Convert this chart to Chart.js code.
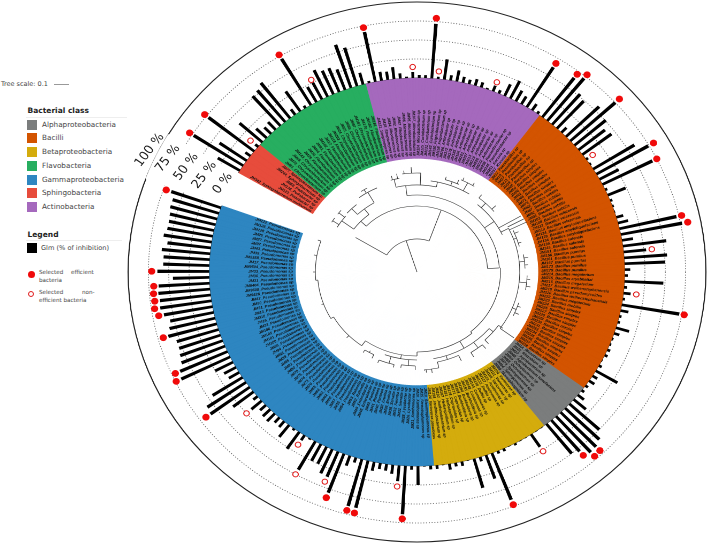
<!DOCTYPE html>
<html lang="en">
<head>
<meta charset="UTF-8">
<title>Bacterial class tree</title>
<script src="https://cdn.jsdelivr.net/npm/chart.js"></script>
<style>
    html, body { margin: 0; background: #fff; overflow: hidden; width: 707px; height: 544px; }
    body { position: relative; font-family: "DejaVu Sans", sans-serif; color: #333; }
    #tree { position: absolute; left: 137px; top: -8px; transform: scaleX(1.07); transform-origin: center; }
    .t { position: absolute; white-space: nowrap; }
    .box { position: absolute; width: 10px; height: 10px; }
    .line { position: absolute; background: #eee; height: 1px; }
    .dot { position: absolute; width: 7px; height: 7px; border-radius: 50%; background: #f00a0a; }
    .ring { position: absolute; width: 4px; height: 4px; border-radius: 50%; border: 1.2px solid #e01b1b; background: #fff; }
</style>
</head>
<body>
<div id="side"></div>
<canvas id="tree" width="560" height="560"></canvas>
<script>
// class order round the ring, clockwise from the gap
const classNames = ['Sphingobacteria', 'Flavobacteria', 'Actinobacteria', 'Bacilli', 'Alphaproteobacteria', 'Betaproteobacteria', 'Gammaproteobacteria'];
const classColors = ['#e74c3c', '#27ae60', '#a569bd', '#d35400', '#7b7d7d', '#d4ac0d', '#2e86c1'];
const legendOrder = [4, 3, 5, 1, 6, 0, 2];

const sphingoNames = ['JM342_Sphingobacterium multivorum', 'JM123_Pedobacter sp', 'JM136_Pedobacter sp', 'JM58_Pedobacter sp', 'JM244_Sphingobacterium sp', 'JM77_Sphingobacterium sp'];
const flavoNames = ['JM81_Chryseobacterium sp', 'JM72_Chryseobacterium sp', 'JM65_Chryseobacterium sp', 'JM143_Chryseobacterium sp', 'JM29_Flavobacterium sp', 'JM30_Flavobacterium sp', 'JM44_Flavobacterium sp', 'JM91_Flavobacterium sp', 'JM102_Flavobacterium sp', 'JM17_Flavobacterium sp', 'JM118_Flavobacterium sp', 'JM203_Flavobacterium sp', 'JM24_Chryseobacterium sp', 'JM25_Chryseobacterium sp', 'JM88_Chryseobacterium sp', 'JM97_Chryseobacterium sp', 'JM163_Chryseobacterium sp', 'JM170_Flavobacterium sp', 'JM182_Flavobacterium sp', 'JM191_Flavobacterium sp'];
const actinoNames = ['JM221_Streptomyces sp', 'JM18_Streptomyces sp', 'JM34_Rhodococcus sp', 'JM42_Rhodococcus sp', 'JM67_Rhodococcus sp', 'JM86_Microbacterium sp', 'JM95_Microbacterium sp', 'JM107_Microbacterium sp', 'JM114_Microbacterium sp', 'JM125_Curtobacterium sp', 'JM131_Curtobacterium sp', 'JM142_Curtobacterium sp', 'JM150_Frigoribacterium sp', 'JM158_Frigoribacterium sp', 'JM166_Arthrobacter sp', 'JM172_Arthrobacter sp', 'JM178_Arthrobacter sp', 'JM185_Arthrobacter sp', 'JM194_Arthrobacter sp', 'JM201_Arthrobacter sp', 'JM207_Arthrobacter sp', 'JM213_Arthrobacter sp', 'JM219_Arthrobacter sp', 'JM226_Arthrobacter sp', 'JM232_Arthrobacter sp', 'JM238_Paenarthrobacter sp', 'JM246_Paenarthrobacter sp', 'JM251_Kocuria sp', 'JM257_Kocuria sp'];
const bacilliNames = ['JM12_Paenibacillus sp', 'JM19_Paenibacillus sp', 'JM27_Paenibacillus sp', 'JM33_Paenibacillus sp', 'JM39_Paenibacillus sp', 'JM45_Bacillus simplex', 'JM50_Bacillus simplex', 'JM56_Bacillus simplex', 'JM61_Bacillus simplex', 'JM66_Bacillus simplex', 'JM71_Bacillus simplex', 'JM76_Bacillus simplex', 'JM82_Bacillus subtilis', 'JM87_Bacillus subtilis', 'JM92_Bacillus subtilis', 'JM98_Bacillus subtilis', 'JM103_Bacillus subtilis', 'JM108_Bacillus velezensis', 'JM113_Bacillus velezensis', 'JM119_Bacillus velezensis', 'JM124_Bacillus amyloliquefaciens', 'JM129_Bacillus amyloliquefaciens', 'JM134_Bacillus amyloliquefaciens', 'JM139_Bacillus safensis', 'JM145_Bacillus safensis', 'JM151_Bacillus safensis', 'JM156_Bacillus pumilus', 'JM161_Bacillus pumilus', 'JM167_Bacillus pumilus', 'JM173_Bacillus pumilus', 'JM179_Bacillus pumilus', 'JM214_Bacillus megaterium', 'JM215_Bacillus aryabhattai', 'JM216_Bacillus megaterium', 'JM217_Bacillus weihenstephanensis', 'JM218_Bacillus pseudomycoides', 'JM220_Bacillus weihenstephanensis', 'JM222_Bacillus megaterium', 'JM223_Bacillus mobilis', 'JM224_Bacillus simplex', 'JM225_Bacillus simplex', 'JM227_Bacillus simplex', 'JM228_Bacillus simplex', 'JM229_Bacillus niacini', 'JM230_Bacillus simplex', 'JM231_Bacillus simplex', 'JM233_Bacillus simplex', 'JM234_Bacillus simplex', 'JM235_Bacillus simplex', 'JM236_Bacillus simplex', 'JM237_Bacillus simplex', 'JM239_Bacillus simplex'];
const alphaNames = ['JM14_Rhizobium sp', 'JM22_Rhizobium sp', 'JM37_Agrobacterium sp', 'JM48_Agrobacterium tumefaciens', 'JM59_Ochrobactrum sp', 'JM68_Ochrobactrum sp', 'JM79_Sphingomonas sp', 'JM84_Sphingomonas sp', 'JM99_Novosphingobium sp'];
const betaNames = ['JM104_Variovorax sp', 'JM111_Variovorax sp', 'JM116_Variovorax sp', 'JM121_Acidovorax sp', 'JM127_Acidovorax sp', 'JM133_Delftia sp', 'JM138_Delftia sp', 'JM144_Comamonas sp', 'JM149_Comamonas sp', 'JM155_Burkholderia sp', 'JM160_Burkholderia sp', 'JM165_Burkholderia sp', 'JM171_Cupriavidus sp', 'JM176_Cupriavidus sp', 'JM181_Herbaspirillum sp', 'JM187_Herbaspirillum sp', 'JM192_Janthinobacterium sp', 'JM198_Janthinobacterium sp', 'JM124_Variovorax paradoxus'];
const gammaNames = ['JM10_Stenotrophomonas sp', 'JM15_Stenotrophomonas sp', 'JM20_Xanthomonas sp', 'JM21_Xanthomonas sp', 'JM26_Lysobacter sp', 'JM28_Lysobacter sp', 'JM31_Serratia sp', 'JM32_Serratia sp', 'JM35_Serratia sp', 'JM36_Erwinia sp', 'JM38_Erwinia sp', 'JM40_Pantoea sp', 'JM41_Pantoea sp', 'JM43_Pantoea sp', 'JM46_Enterobacter sp', 'JM49_Enterobacter sp', 'JM52_Rahnella sp', 'JM53_Rahnella sp', 'JM54_Pseudomonas sp', 'JM55_Pseudomonas sp', 'JM57_Pseudomonas sp', 'JM60_Pseudomonas sp', 'JM62_Pseudomonas sp', 'JM63_Pseudomonas sp', 'JM64_Pseudomonas sp', 'JM69_Pseudomonas sp', 'JM70_Pseudomonas sp', 'JM73_Pseudomonas sp', 'JM74_Pseudomonas sp', 'JM75_Pseudomonas sp', 'JM78_Pseudomonas sp', 'JM80_Pseudomonas sp', 'JM83_Pseudomonas sp', 'JM85_Pseudomonas sp', 'JM89_Pseudomonas sp', 'JM93_Pseudomonas sp', 'JM94_Pseudomonas sp', 'JM96_Pseudomonas sp', 'JM100_Pseudomonas sp', 'JM101_Pseudomonas sp', 'JM105_Pseudomonas sp', 'JM106_Pseudomonas sp', 'JM22_Pseudomonas sp', 'JM16_Pseudomonas sp', 'JM310_Pseudomonas sp', 'JM13_Pseudomonas sp', 'JM51_Pseudomonas sp', 'JM90_Pseudomonas sp', 'JM47_Pseudomonas sp', 'JM9426_Pseudomonas sp', 'JM9608_Pseudomonas sp', 'JM9404_Pseudomonas sp', 'JM31_Pseudomonas sp', 'JM30_Pseudomonas sp', 'JM33_Pseudomonas sp', 'JM9504_Pseudomonas sp', 'JM17_Pseudomonas sp', 'JM9358_Pseudomonas sp', 'JM39_Pseudomonas sp', 'JM43_Pseudomonas sp', 'JM37_Pseudomonas sp', 'JM27_Pseudomonas sp', 'JM25_Pseudomonas sp', 'JM128_Pseudomonas sp', 'JM126_Pseudomonas sp', 'JM122_Pseudomonas sp'];

// % of inhibition per leaf, same order as the names
const sphingoValues = [32, 73, 41, 8, 72, 5];
const flavoValues = [38, 18, 12, 14, 52, 54, 59, 9, 32, 4, 71, 23, 25, 39, 34, 34, 29, 60, 53, 16];
const actinoValues = [3, 67, 12, 11, 16, 7, 2, 8, 4, 4, 72, 3, 27, 7, 15, 8, 6, 9, 7, 2, 8, 5, 17, 26, 16, 12, 62, 10, 4];
const bacilliValues = [65, 72, 53, 49, 9, 57, 75, 51, 42, 45, 3, 2, 60, 74, 27, 69, 3, 24, 3, 2, 1, 9, 13, 72, 77, 14, 54, 28, 53, 50, 7, 4, 48, 4, 9, 3, 72, 10, 3, 3, 17, 7, 2, 2, 4, 4, 1, 4, 31, 7, 8, 4];
const alphaValues = [4, 10, 20, 50, 59, 63, 64, 54, 50];
const betaValues = [1, 1, 20, 1, 1, 3, 1, 4, 4, 66, 33, 6, 40, 1, 6, 5, 8, 1, 5];
const gammaValues = [5, 1, 25, 5, 64, 21, 12, 9, 8, 12, 64, 64, 7, 14, 55, 36, 35, 25, 25, 43, 2, 8, 27, 3, 20, 10, 9, 14, 13, 10, 17, 7, 32, 60, 58, 44, 15, 17, 25, 67, 64, 58, 56, 54, 54, 62, 58, 55, 61, 64, 63, 64, 63, 45, 64, 57, 57, 60, 54, 60, 57, 57, 58, 60, 60, 65];

// selected bacteria: leaf number and height of the marker on the % axis
const efficientLeaves = [1, 4, 16, 27, 36, 52, 55, 56, 61, 68, 70, 78, 79, 91, 112, 113, 114, 125, 139, 145, 146, 149, 168, 174, 175, 180, 183, 184, 185, 186, 187, 189, 200];
const efficientHeights = [79, 78, 77, 73, 79.5, 68, 71, 78, 82, 81.5, 75, 78.5, 84, 78, 70, 71, 61, 73, 70, 71, 70, 62, 67, 74, 70.5, 68.5, 67.5, 71, 69.5, 70, 69, 71, 71.5];
const nonEfficientLeaves = [5, 18, 33, 37, 46, 65, 82, 89, 118, 140, 150, 154, 156, 165];
const nonEfficientHeights = [12.7, 29, 14.5, 10, 13, 10, 35, 16, 27, 28, 43, 50, 15, 25];

const tickValues = [0, 25, 50, 75, 100];
const tickLabels = ['0 %', '25 %', '50 %', '75 %', '100 %'];

// dendrogram: [depth, fromDeg, toDeg] and [deg, depth0, depth1], degrees clockwise from top, unwrapped past 360
const treeArcs = [[33, 301, 380], [66, 314, 447], [73, 306, 322], [87, 301, 310], [80, 316, 330], [88, 312, 320], [92, 324, 336], [94, 302, 305], [94, 308, 311], [96, 327, 331],
    [77, 353, 447], [78, 447, 500], [80, 500, 540], [84, 540, 575], [90, 575, 600], [93, 600, 625], [95, 625, 649],
    [87, 347, 372], [92, 368, 392], [99, 352, 362], [95, 345, 350], [96, 376, 384], [101, 384, 392], [88, 400, 425], [94, 398, 410], [96, 423, 486], [99, 425, 435], [101, 440, 448], [103, 452, 460], [100, 468, 476],
    [88, 490, 530], [93, 485, 497], [95, 500, 508], [92, 515, 528], [98, 528, 536], [88, 540, 560], [94, 541, 549], [95, 553, 562], [92, 566, 572]];
const treeSpokes = [[342, 0, 33], [301, 33, 67], [380, 33, 66], [314, 66, 73], [306, 73, 87], [322, 73, 80], [316, 80, 88], [330, 80, 92], [303, 87, 94], [309, 87, 94], [329, 92, 96],
    [447, 66, 77], [353, 77, 87], [500, 78, 80], [540, 80, 84], [575, 84, 90], [600, 90, 93], [625, 93, 95], [649, 95, 98], [415, 77, 88], [403, 88, 94], [423, 88, 96],
    [362, 87, 99], [347, 87, 95], [372, 87, 92], [380, 92, 96], [388, 92, 101], [357, 99, 105], [353, 99, 102], [349, 95, 100], [346, 95, 99], [391, 101, 104], [385, 101, 104], [376, 96, 99], [383, 96, 100],
    [398, 94, 98], [408, 94, 99], [424, 96, 114], [422, 96, 113], [420, 88, 112], [430, 96, 99], [444, 96, 101], [456, 96, 103], [472, 96, 100], [486, 96, 112], [427, 99, 103], [433, 99, 102], [442, 101, 105], [446, 101, 104], [454, 103, 106], [458, 103, 107], [470, 100, 103], [474, 100, 104],
    [510, 80, 88], [490, 88, 93], [485, 93, 98], [497, 93, 98], [503, 88, 95], [500, 95, 100], [508, 95, 100], [522, 88, 92], [515, 92, 98], [528, 92, 98], [532, 98, 102], [535, 98, 101], [536, 98, 99],
    [550, 84, 88], [545, 88, 94], [541, 94, 98], [549, 94, 97], [556, 88, 95], [553, 95, 98], [562, 95, 98], [569, 90, 92], [566, 92, 96], [572, 92, 95], [585, 90, 93], [610, 93, 95], [630, 95, 97], [640, 95, 98]];

// ---- legend column (plain text beside the chart)
const side = document.getElementById('side');
function addText(txt, x, y, size, bold, color) {
    const el = document.createElement('div');
    el.className = 't';
    el.textContent = txt;
    el.style.cssText = `left:${x}px;top:${y}px;font-size:${size}px;line-height:${size + 2}px;font-weight:${bold ? 700 : 400};color:${color || '#444'}`;
    side.appendChild(el);
}
function addEl(cls, x, y, color) {
    const el = document.createElement('div');
    el.className = cls;
    el.style.left = x + 'px';
    el.style.top = y + 'px';
    if (color) el.style.background = color;
    side.appendChild(el);
}
addText('Tree scale: 0.1', 1, 80, 6.5);
side.insertAdjacentHTML('beforeend', '<div class="line" style="left:54px;top:84px;width:15px;background:#999"></div>');
addText('Bacterial class', 27.5, 105.5, 7.5, true, '#222');
side.insertAdjacentHTML('beforeend', '<div class="line" style="left:26px;top:117px;width:101px"></div>');
legendOrder.forEach((c, i) => {
    addEl('box', 27, 119.5 + i * 13.75, classColors[c]);
    addText(classNames[c], 42, 119.5 + i * 13.75, 7.25);
});
addText('Legend', 27.5, 229.5, 7.5, true, '#222');
side.insertAdjacentHTML('beforeend', '<div class="line" style="left:26px;top:240px;width:96px"></div>');
addEl('box', 27, 243, '#000');
addText('Glm (% of inhibition)', 41, 243.5, 6.6);
addEl('dot', 28, 270.5);
addText('Selected', 39, 268.5, 5.6);
addText('efficient', 71, 268.5, 5.6);
addText('bacteria', 39, 277, 5.6);
addEl('ring', 28, 291);
addText('Selected', 39, 288.5, 5.6);
addText('non-', 82, 288.5, 5.6);
addText('efficient bacteria', 39, 297, 5.6);

// ---- flatten the per class lists into the doubled slot arrays
const leafNames = [sphingoNames, flavoNames, actinoNames, bacilliNames, alphaNames, betaNames, gammaNames];
const leafValues = [sphingoValues, flavoValues, actinoValues, bacilliValues, alphaValues, betaValues, gammaValues];
const gapLeaves = 6;
const leafCount = leafValues.flat().length;
const slotCount = (leafCount + gapLeaves) * 2;
const slotDeg = 360 / slotCount;
const barDeg = 0.78;
const ringTop = -0.3;
const holeValue = -106.6;

const labels = new Array(slotCount).fill('');
const bars = new Array(slotCount).fill(null);
const ring = new Array(slotCount).fill(100);
const ringColors = new Array(slotCount).fill('#ffffff');
const hole = new Array(slotCount).fill(holeValue);
let k = 0;
leafValues.forEach((vals, c) => {
    vals.forEach((v, i) => {
        labels[2 * k + 1] = leafNames[c][i];
        bars[2 * k + 1] = v;
        ring[2 * k] = ring[2 * k + 1] = ringTop;
        ringColors[2 * k] = ringColors[2 * k + 1] = classColors[c];
        k++;
    });
});
const selected = new Array(slotCount).fill(null);
efficientLeaves.forEach((l, i) => { selected[2 * l + 1] = efficientHeights[i]; });
const nonSelected = new Array(slotCount).fill(null);
nonEfficientLeaves.forEach((l, i) => { nonSelected[2 * l + 1] = nonEfficientHeights[i]; });

const treePlugin = {
    id: 'treePlugin',
    afterDatasetsDraw(chart) {
        const scale = chart.scales.r;
        const ctx = chart.ctx;
        const cx = scale.xCenter, cy = scale.yCenter;
        const rad = d => (d - 90) * Math.PI / 180;
        ctx.save();
        // dendrogram
        ctx.strokeStyle = '#333';
        ctx.lineWidth = 0.6;
        treeArcs.forEach(([d, a0, a1]) => {
            ctx.beginPath();
            ctx.arc(cx, cy, d, rad(a0), rad(a1));
            ctx.stroke();
        });
        treeSpokes.forEach(([a, d0, d1]) => {
            ctx.beginPath();
            ctx.moveTo(cx + Math.cos(rad(a)) * d0, cy + Math.sin(rad(a)) * d0);
            ctx.lineTo(cx + Math.cos(rad(a)) * d1, cy + Math.sin(rad(a)) * d1);
            ctx.stroke();
        });
        // leaf names in the ring
        const r0 = scale.getDistanceFromCenterForValue(holeValue) + 3;
        ctx.fillStyle = '#111';
        ctx.font = 'italic bold 3.7px "Liberation Sans", sans-serif';
        ctx.textBaseline = 'middle';
        labels.forEach((name, i) => {
            if (!name) return;
            const a = scale.getIndexAngle(i) - Math.PI / 2;
            ctx.save();
            ctx.translate(cx, cy);
            ctx.rotate(a);
            if (Math.cos(a) < 0) {
                ctx.rotate(Math.PI);
                ctx.textAlign = 'right';
                ctx.fillText(name, -r0, 0);
            } else {
                ctx.textAlign = 'left';
                ctx.fillText(name, r0, 0);
            }
            ctx.restore();
        });
        // % labels in the gap
        ctx.fillStyle = '#222';
        ctx.font = '12px "DejaVu Sans", sans-serif';
        ctx.textAlign = 'center';
        tickValues.forEach((v, i) => {
            const d = scale.getDistanceFromCenterForValue(v) + 8;
            ctx.save();
            ctx.translate(cx + Math.cos(rad(296)) * d, cy + Math.sin(rad(296)) * d);
            ctx.rotate(-54 * Math.PI / 180);
            ctx.fillText(tickLabels[i], 0, 0);
            ctx.restore();
        });
        ctx.restore();
    }
};

new Chart(document.getElementById('tree'), {
    type: 'polarArea',
    data: {
        labels: labels,
        datasets: [
            {
                type: 'radar', label: 'Selected efficient bacteria', data: selected, order: 0, showLine: false, fill: false,
                pointRadius: 3.4, pointBackgroundColor: '#f00a0a', pointBorderColor: '#f00a0a', pointBorderWidth: 0
            },
            {
                type: 'radar', label: 'Selected non-efficient bacteria', data: nonSelected, order: 1, showLine: false, fill: false,
                pointRadius: 2.6, pointBackgroundColor: '#fff', pointBorderColor: '#e01b1b', pointBorderWidth: 1
            },
            { label: 'hole', data: hole, order: 2, backgroundColor: '#fff', borderColor: '#fff', borderWidth: 0.6 },
            { label: 'class', data: ring, order: 3, backgroundColor: ringColors, borderColor: ringColors, borderWidth: 0.6 },
            {
                label: 'Glm (% of inhibition)', data: bars, order: 4, backgroundColor: '#000', borderWidth: 0,
                angle: c => c.dataIndex === 0 ? slotDeg - barDeg / 2 : (c.dataIndex % 2 ? barDeg : 2 * slotDeg - barDeg)
            }
        ]
    },
    options: {
        responsive: false,
        animation: false,
        devicePixelRatio: 2,
        layout: { padding: 10 },
        plugins: { legend: { display: false }, tooltip: { enabled: false } },
        scales: {
            r: {
                min: -255.26,
                max: 100,
                startAngle: 300.6,
                ticks: { display: false, stepSize: 25 },
                pointLabels: { display: false },
                angleLines: { display: false },
                grid: {
                    circular: true,
                    color: c => c.tick.value === 100 || c.tick.value === 0 ? '#222' : '#666',
                    lineWidth: c => c.tick.value < 0 ? 0 : (c.tick.value === 100 ? 1.1 : 0.8)
                },
                border: { dash: c => (c.tick.value === 100 || c.tick.value === 0) ? [] : [1, 1.6] }
            }
        }
    },
    plugins: [treePlugin]
});
</script>
</body>
</html>
